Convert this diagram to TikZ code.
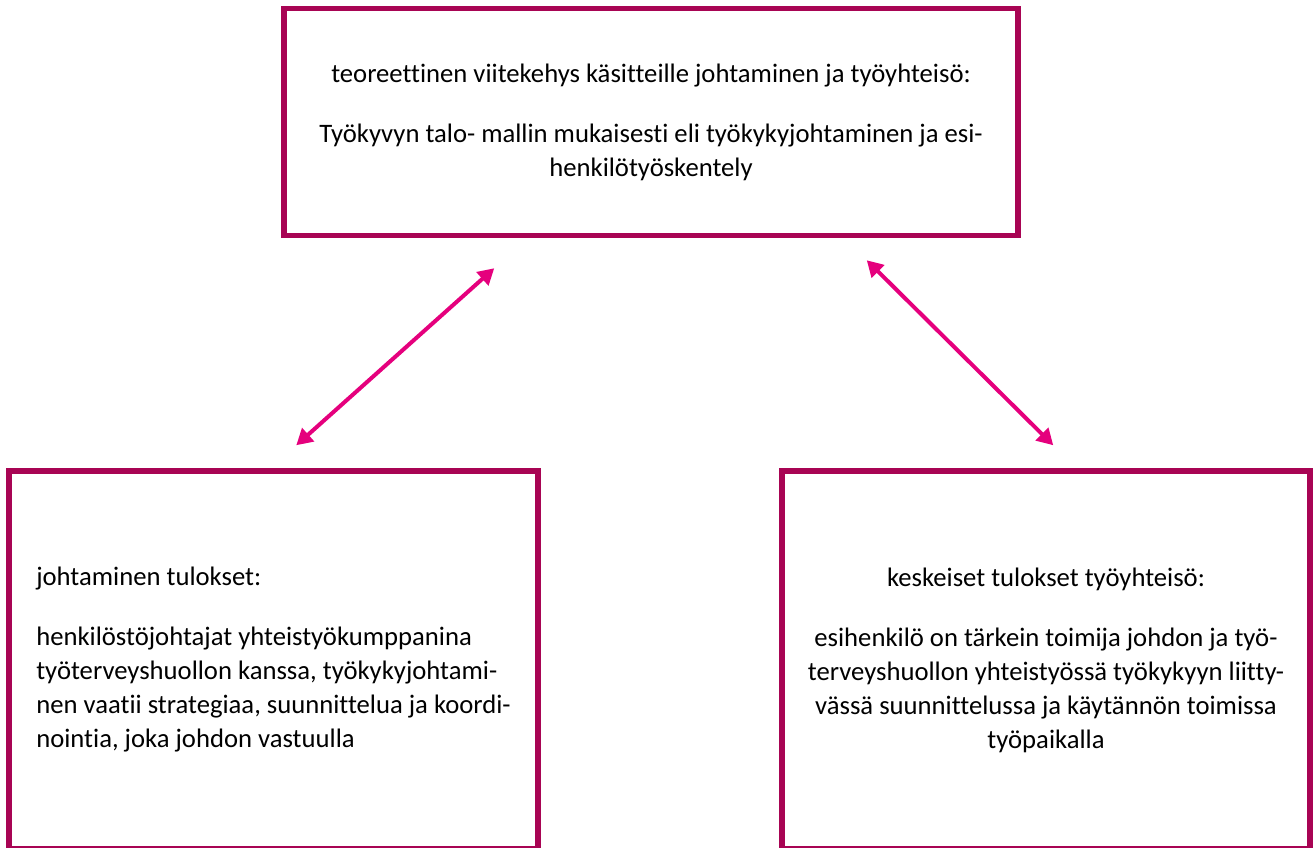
\documentclass[tikz,border=0pt]{standalone}
\usepackage{fontspec}
\setmainfont{Carlito}[Ligatures=NoCommon]
\usetikzlibrary{arrows.meta}
\definecolor{berry}{RGB}{168,4,84}
\definecolor{pinkline}{RGB}{229,0,125}
\tikzset{
    box/.style={rectangle, draw=berry, line width=4.1pt, fill=white, inner sep=0pt, font=\fontsize{20}{25.5}\selectfont},
    link/.style={draw=pinkline, line width=3pt, {Triangle[length=12pt,width=13pt]}-{Triangle[length=12pt,width=13pt]}}
}

\begin{document}
\begin{tikzpicture}[x=0.75pt, y=-0.75pt]
    \useasboundingbox (0,0) rectangle (1313,847);

    \node (frame) [box, align=center, minimum width=550.5pt, minimum height=170.25pt] at (651,122)
        {teoreettinen viitekehys käsitteille johtaminen ja työyhteisö:\\[19.5pt]
         Työkyvyn talo- mallin mukaisesti eli työkykyjohtaminen ja esi-\\
         henkilötyöskentely};
    \node (leading) [box, align=left, minimum width=396.75pt, minimum height=283.5pt] at (273.5,660)
        {johtaminen tulokset:\\[19.5pt]
         henkilöstöjohtajat yhteistyökumppanina\\
         työterveyshuollon kanssa, työkykyjohtami-\\
         nen vaatii strategiaa, suunnittelua ja koordi-\\
         nointia, joka johdon vastuulla};
    \node (community) [box, align=center, minimum width=396pt, minimum height=283.5pt] at (1046,660)
        {keskeiset tulokset työyhteisö:\\[19.5pt]
         esihenkilö on tärkein toimija johdon ja työ-\\
         terveyshuollon yhteistyössä työkykyyn liitty-\\
         vässä suunnittelussa ja käytännön toimissa\\
         työpaikalla};

    \draw [link] ([shift={(213,30)}]frame.south west) -- ([shift={(290,-23)}]leading.north west);
    \draw [link] ([shift={(-154,22)}]frame.south east) -- ([shift={(274,-23)}]community.north west);
\end{tikzpicture}
\end{document}
